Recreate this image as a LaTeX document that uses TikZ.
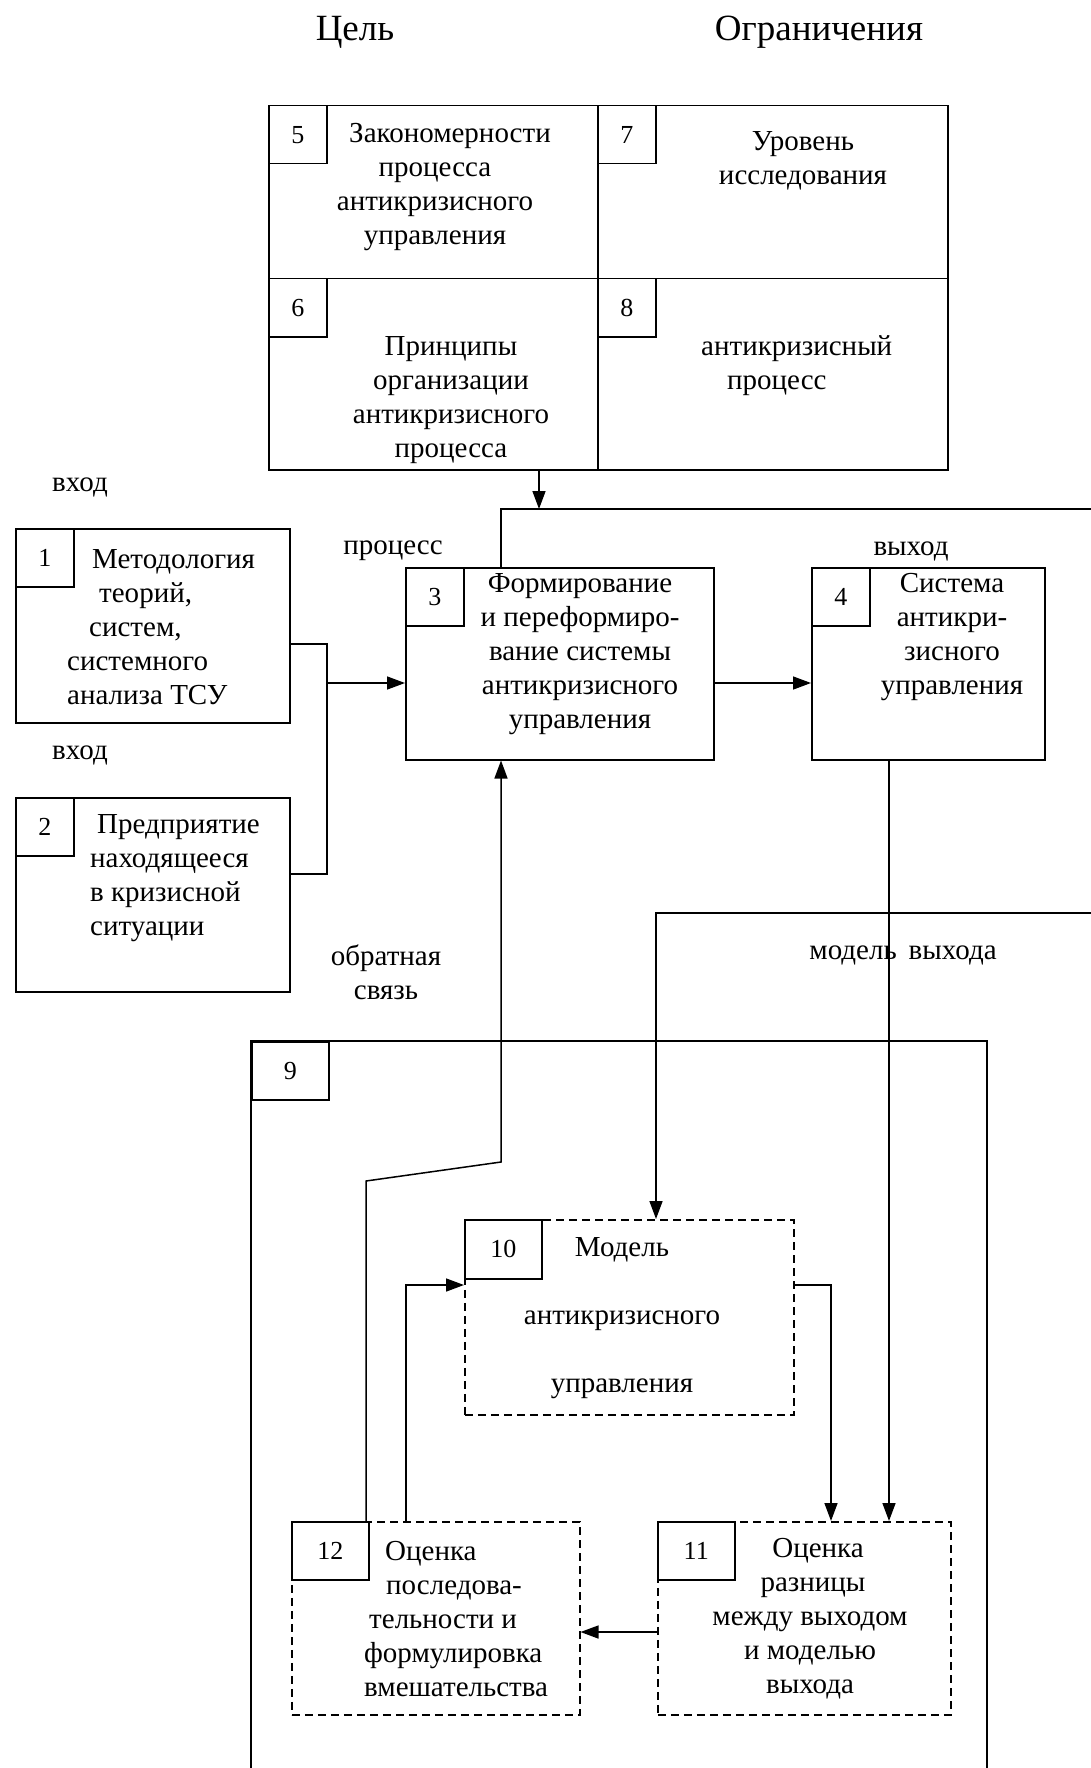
\documentclass[tikz,border=0pt]{standalone}
\usepackage{fontspec}
\setmainfont{Liberation Serif}
\usetikzlibrary{arrows.meta}
\begin{document}
\begin{tikzpicture}[x=1pt,y=-1pt,
  box/.style={draw, line width=1.5pt, anchor=north west, inner sep=0pt},
  dbox/.style={box, dash pattern=on 8pt off 5pt},
  num/.style={draw, fill=white, line width=1.5pt, anchor=north west, inner sep=0pt,
    minimum width=58pt, minimum height=58pt, font=\fontsize{26}{32}\selectfont},
  wnum/.style={num, minimum width=77pt},
  txt/.style={font=\fontsize{29}{34}\selectfont, align=center, inner sep=0pt},
  ltxt/.style={txt, align=left, anchor=west},
  lab/.style={font=\fontsize{29}{34}\selectfont, inner sep=0pt, align=center},
  ttl/.style={font=\fontsize{37}{42}\selectfont, inner sep=0pt},
  conn/.style={line width=1.5pt},
  arr/.style={conn, -{Triangle[length=18pt,width=13pt]}},
]
\useasboundingbox[fill=white] (0,0) rectangle (1091,1768);

% titles
\node[ttl] (goal) at (355,32) {Цель};
\node[ttl] (lim) at (819,32) {Ограничения};

% top block
\node[box, minimum width=329pt, minimum height=173pt] (b5) at (268,105) {};
\node[box, minimum width=350pt, minimum height=173pt] (b7) at (597,105) {};
\node[box, minimum width=329pt, minimum height=191pt] (b6) at (268,278) {};
\node[box, minimum width=350pt, minimum height=191pt] (b8) at (597,278) {};
\node[num] (n5) at (b5.north west) {5};
\node[num] (n7) at (b7.north west) {7};
\node[num] (n6) at (b6.north west) {6};
\node[num] (n8) at (b8.north west) {8};
\node[txt] (t5) at (435,187) {\hspace*{30pt}Закономерности\\процесса\\антикризисного\\управления};
\node[txt] (t7) at (803,161) {Уровень\\исследования};
\node[txt] (t6) at (451,400) {Принципы\\организации\\антикризисного\\процесса};
\node[ltxt] (t8) at (701,366) {антикризисный\\\hspace*{26pt}процесс};

% inputs
\node[lab] (in1) at (80,487) {вход};
\node[lab] (in2) at (80,755) {вход};
\node[box, minimum width=274pt, minimum height=194pt] (b1) at (15,528) {};
\node[num] (n1) at (b1.north west) {1};
\node[ltxt] (t1) at (67,627) {\hspace*{25pt}Методология\\\hspace*{32pt}теорий,\\\hspace*{22pt}систем,\\системного\\анализа ТСУ};
\node[box, minimum width=274pt, minimum height=194pt] (b2) at (15,797) {};
\node[num] (n2) at (b2.north west) {2};
\node[ltxt] (t2) at (90,878) {\hspace*{7pt}Предприятие\\находящееся\\в кризисной\\ситуации};

% process and output
\node[lab] (lpr) at (393,551) {процесс};
\node[lab] (lout) at (911,551) {выход};
\node[box, minimum width=308pt, minimum height=192pt] (b3) at (405,567) {};
\node[num] (n3) at (b3.north west) {3};
\node[txt] (t3) at (580,654) {Формирование\\и переформиро-\\вание системы\\антикризисного\\управления};
\node[box, minimum width=233pt, minimum height=192pt] (b4) at (811,567) {};
\node[num] (n4) at (b4.north west) {4};
\node[txt] (t4) at (952,637) {Система\\антикри-\\зисного\\управления};

\node[lab] (lfb) at (386,972) {обратная\\связь};
\node[lab] (lmod) at (903,955) {модель\hspace{12pt}выхода};

% box 9
\coordinate (b9tl) at (251,1041);
\coordinate (b9tr) at (987,1041);
\coordinate (bot) at (0,1768);
\draw[conn] (b9tl |- bot) -- (b9tl) -- (b9tr) -- (b9tr |- bot);
\node[wnum] (n9) at (b9tl) {9};

% inner boxes
\node[dbox, minimum width=329pt, minimum height=195pt] (b10) at (464,1219) {};
\node[wnum, minimum height=59pt] (n10) at (b10.north west) {10};
\node[txt] (t10) at (622,1318) {Модель\\[34pt]антикризисного\\[34pt]управления};
\node[dbox, minimum width=293pt, minimum height=193pt] (b11) at (657,1521) {};
\node[wnum] (n11) at (b11.north west) {11};
\node[txt] (t11) at (810,1619) {\hspace*{16pt}Оценка\\\hspace*{6pt}разницы\\между выходом\\и моделью\\выхода};
\node[dbox, minimum width=288pt, minimum height=193pt] (b12) at (291,1521) {};
\node[wnum] (n12) at (b12.north west) {12};
\node[ltxt] (t12) at (364,1619) {\hspace*{21pt}Оценка\\\hspace*{22pt}последова-\\\hspace*{5pt}тельности и\\формулировка\\вмешательства};

% connectors
\coordinate (ctl) at (1091,509);
\coordinate (fbx) at (501,509);
\coordinate (tin) at (539,509);
\draw[conn] (ctl) -- (fbx) -- (fbx |- b3.north);
\draw[arr] (tin |- b6.south) -- (tin);

\coordinate (j1) at (327,644);
\coordinate (j2) at (327,874);
\coordinate (jx) at (327,683);
\draw[conn] (b1.east |- j1) -- (j1) -- (j2) -- (b2.east |- j2);
\draw[arr] (jx) -- (b3.west |- jx);
\draw[arr] (b3.east |- jx) -- (b4.west |- jx);

\coordinate (f1) at (366,1181);
\coordinate (f2) at (501,1162);
\draw[arr] (f1 |- b12.north) -- (f1) -- (f2) -- (f2 |- b3.south);

\coordinate (ox) at (889,913);
\draw[arr] (ox |- b4.south) -- (ox |- b11.north);

\coordinate (mr) at (1091,913);
\coordinate (mx) at (656,913);
\draw[arr] (mr) -- (mx) -- (mx |- b10.north);

\coordinate (r10) at (831,1285);
\draw[arr] (b10.east |- r10) -- (r10) -- (r10 |- b11.north);
\coordinate (l10) at (406,1285);
\draw[arr] (l10 |- b12.north) -- (l10) -- (b10.west |- l10);
\coordinate (a11) at (0,1632);
\draw[arr] (b11.west |- a11) -- (b12.east |- a11);
\end{tikzpicture}
\end{document}
